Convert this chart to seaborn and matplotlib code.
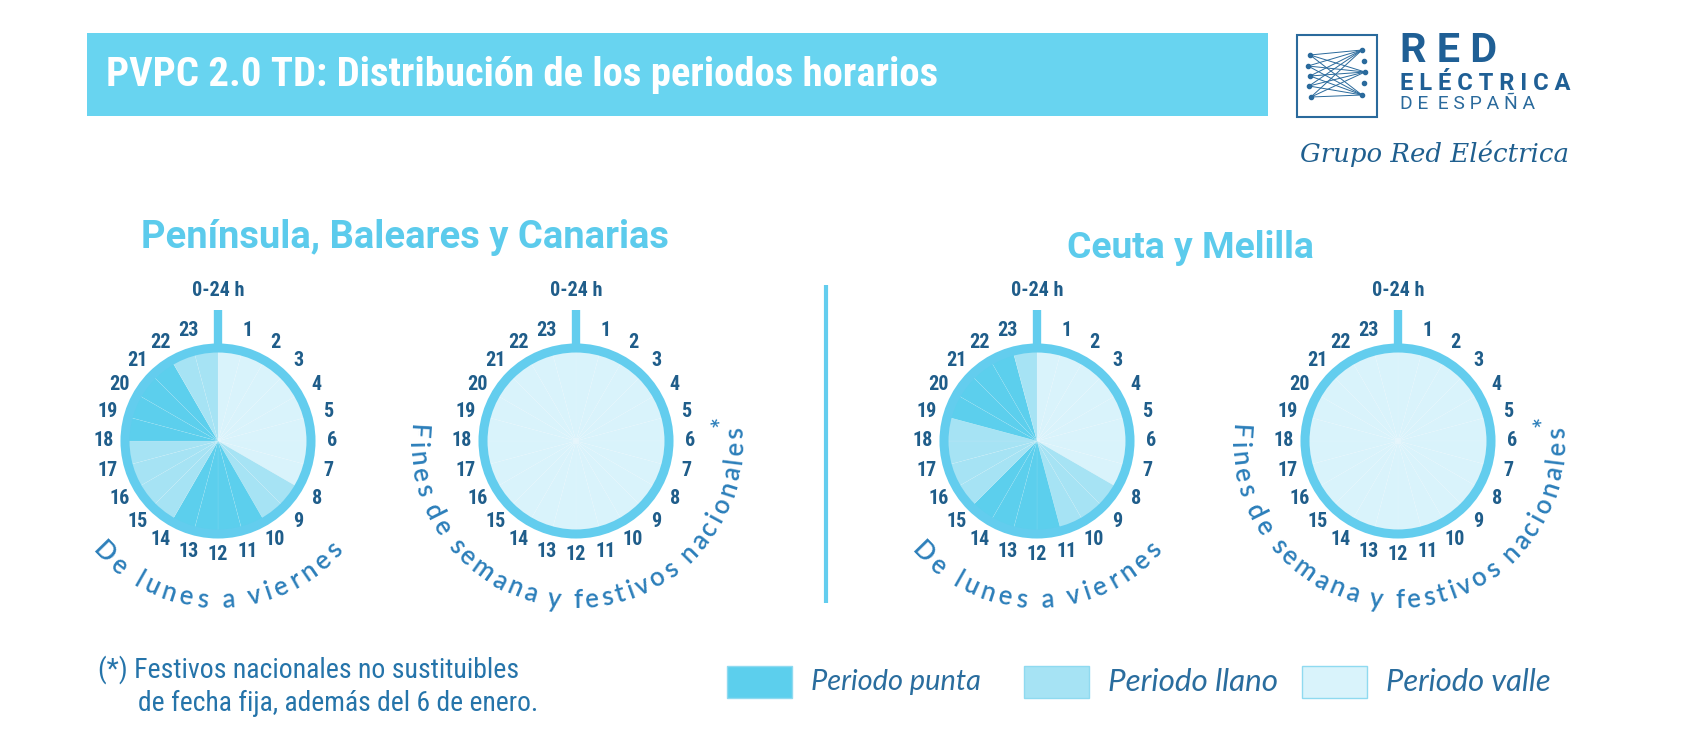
import numpy as np
import matplotlib
matplotlib.use("Agg")
import matplotlib.pyplot as plt
import seaborn as sns
from matplotlib.patches import Rectangle, Circle
from matplotlib.font_manager import FontProperties

# Datos: tramos horarios (en horas, empezando a las 0 h y en sentido horario)
periodos = ['punta', 'llano', 'valle']
nombres_leyenda = ['Periodo punta', 'Periodo llano', 'Periodo valle']

pen_laborable_tramos = ['valle', 'llano', 'punta', 'llano', 'punta', 'llano']
pen_laborable_horas = [8, 2, 4, 4, 4, 2]

ceuta_laborable_tramos = ['valle', 'llano', 'punta', 'llano', 'punta', 'llano']
ceuta_laborable_horas = [8, 3, 4, 4, 4, 1]

festivo_tramos = ['valle']
festivo_horas = [24]

etiquetas_horas = [str(h) for h in range(1, 24)]

titulo = 'PVPC 2.0 TD: Distribución de los periodos horarios'
subtitulos = ['Península, Baleares y Canarias', 'Ceuta y Melilla']
texto_laborable = 'De lunes a viernes'
texto_festivo = 'Fines de semana y festivos nacionales*'
nota = ['(*) Festivos nacionales no sustituibles',
        'de fecha fija, además del 6 de enero.']

# Colores
colores = dict(zip(periodos, sns.color_palette(['#5ccfed', '#a6e3f4', '#d9f3fb'])))
AZUL_BANNER = '#68d4f0'
AZUL_ARO = '#63cdee'
AZUL_OSCURO = '#1f5d8a'
AZUL_TEXTO = '#2c7fba'
AZUL_SUB = '#5ccbec'

sns.set_theme(style='white')
COND = ['Roboto Condensed', 'Liberation Sans Narrow', 'Roboto', 'DejaVu Sans']
SANS = ['Roboto', 'DejaVu Sans']
REDONDA = ['Lato', 'Open Sans', 'DejaVu Sans']
plt.rcParams['font.family'] = SANS

W, H = 1706, 755
fig = plt.figure(figsize=(W / 100, H / 100), dpi=100)
ax = fig.add_axes([0, 0, 1, 1])
renderer = fig.canvas.get_renderer()


def Y(y):
    return H - y


def ajustar_ancho(t, ancho):
    bb = t.get_window_extent(renderer=renderer)
    t.set_fontsize(t.get_fontsize() * ancho / bb.width)
    return t


def texto_arco(s, cx, cy, r, centro, span, fs, color, family):
    fp = FontProperties(family=family, size=fs, weight='semibold')
    ws = []
    for ch in s:
        if ch == ' ':
            ws.append(fs * 100 / 72 * 0.22)
        else:
            w, h, d = renderer.get_text_width_height_descent(ch, fp, ismath=False)
            ws.append(w)
    arco = np.radians(span) * r
    track = (arco - sum(ws)) / (len(s) - 1)
    th0 = np.radians(centro) - np.radians(span) / 2
    pos = 0
    for ch, w in zip(s, ws):
        th = th0 + (pos + w / 2) / r
        rr = r - 12 if ch == '*' else r
        ax.text(cx + rr * np.cos(th), cy + rr * np.sin(th), ch,
                rotation=np.degrees(th) + 90, rotation_mode='anchor',
                ha='center', va='baseline', fontproperties=fp, color=color)
        pos += w + track


def reloj(cx, cy, tramos, horas, leyenda, span, centro):
    horarios = []
    for t, n in zip(tramos, horas):
        horarios += [t] * n
    ax.pie([1] * len(horarios), colors=[colores[t] for t in horarios],
           startangle=90, counterclock=False, center=(cx, Y(cy)), radius=93,
           frame=True, wedgeprops=dict(linewidth=0.4, edgecolor=(1, 1, 1, 0.12)))
    ax.add_patch(Circle((cx, Y(cy)), 93, fill=False, edgecolor=AZUL_ARO, linewidth=6.5))
    ax.plot([cx, cx], [Y(cy) + 96, Y(cy) + 131], color=AZUL_ARO, linewidth=6,
            solid_capstyle='butt')
    ax.text(cx, Y(cy - 150), '0-24 h', ha='center', va='center', fontsize=14.5,
            fontweight='bold', color=AZUL_OSCURO, family=COND)
    for i, lab in enumerate(etiquetas_horas):
        ang = np.radians(90 - 15 * (i + 1))
        ax.text(cx + 114 * np.cos(ang), Y(cy) + 114 * np.sin(ang), lab,
                ha='center', va='center', fontsize=14.5, fontweight='bold',
                color=AZUL_OSCURO, family=COND)
    texto_arco(leyenda, cx, Y(cy), 167, centro, span, 18.5, AZUL_TEXTO, REDONDA)


# Cabecera
ax.add_patch(Rectangle((87, Y(116)), 1181, 83, facecolor=AZUL_BANNER, edgecolor='none'))
t = ax.text(106, Y(75), titulo, ha='left', va='center', color='white',
            fontsize=24, fontweight='bold', family=COND)
ajustar_ancho(t, 835)

# Logotipo
ax.add_patch(Rectangle((1297, Y(117)), 80, 82, fill=False, edgecolor='#2a6a9c', linewidth=1.5))
izq = [(1310, 55), (1308, 66), (1310, 76), (1309, 86), (1311, 97)]
der = [(1362, 50), (1364, 61), (1365, 72), (1364, 83), (1362, 95)]
for (x0, y0) in izq:
    for (x1, y1) in der[::2]:
        ax.plot([x0, x1], [Y(y0), Y(y1)], color='#2a6a9c', linewidth=0.7)
    ax.plot(x0, Y(y0), 'o', color='#2a6a9c', markersize=3)
for (x1, y1) in der:
    ax.plot(x1, Y(y1), 'o', color='#2a6a9c', markersize=3)
t = ax.text(1400, Y(51), 'R E D', ha='left', va='center', color='#1f5f95',
            fontsize=24, fontweight='bold', family=SANS)
ajustar_ancho(t, 97)
t = ax.text(1400, Y(83), 'E L É C T R I C A', ha='left', va='center', color='#1f5f95',
            fontsize=12, fontweight='bold', family=SANS)
ajustar_ancho(t, 170)
t = ax.text(1400, Y(104), 'D E  E S P A Ñ A', ha='left', va='center', color='#2a6a9c',
            fontsize=12, family=SANS)
ajustar_ancho(t, 134)
t = ax.text(1300, Y(154), 'Grupo Red Eléctrica', ha='left', va='center', color='#1f5f8f',
            fontsize=16, style='italic', family=['DejaVu Serif'])
ajustar_ancho(t, 270)

# Subtitulos
t = ax.text(405, Y(238), subtitulos[0], ha='center', va='center', color=AZUL_SUB,
            fontsize=22, fontweight='bold', family=SANS)
ajustar_ancho(t, 528)
t = ax.text(1190, Y(248), subtitulos[1], ha='center', va='center', color=AZUL_SUB,
            fontsize=22, fontweight='bold', family=SANS)
ajustar_ancho(t, 247)

# Separador
ax.plot([826, 826], [Y(285), Y(603)], color=AZUL_ARO, linewidth=3, solid_capstyle='butt')

# Relojes
reloj(218, 441, pen_laborable_tramos, pen_laborable_horas, texto_laborable, 98, -90)
reloj(576, 441, festivo_tramos, festivo_horas, texto_festivo, 196, -88)
reloj(1037, 441, ceuta_laborable_tramos, ceuta_laborable_horas, texto_laborable, 98, -90)
reloj(1398, 441, festivo_tramos, festivo_horas, texto_festivo, 196, -88)

# Nota
t = ax.text(98, Y(670), nota[0], ha='left', va='center', color='#2574aa',
            fontsize=15, family=COND)
ajustar_ancho(t, 422)
t = ax.text(138, Y(703), nota[1], ha='left', va='center', color='#2574aa',
            fontsize=15, family=COND)
ajustar_ancho(t, 401)

# Leyenda
for x, p, nombre in zip([727, 1024, 1302], periodos, nombres_leyenda):
    ax.add_patch(Rectangle((x, Y(698)), 65, 32, facecolor=colores[p],
                           edgecolor='#8fdaf0', linewidth=1))
    t = ax.text(x + 84, Y(682), nombre, ha='left', va='center', color='#2a6d9e',
                fontsize=16, style='italic', family=REDONDA)
    ajustar_ancho(t, 170 if p != 'valle' else 165)

ax.set_xlim(0, W)
ax.set_ylim(0, H)
ax.set_aspect('auto')
ax.axis('off')
fig.savefig('out.png', dpi=100)
